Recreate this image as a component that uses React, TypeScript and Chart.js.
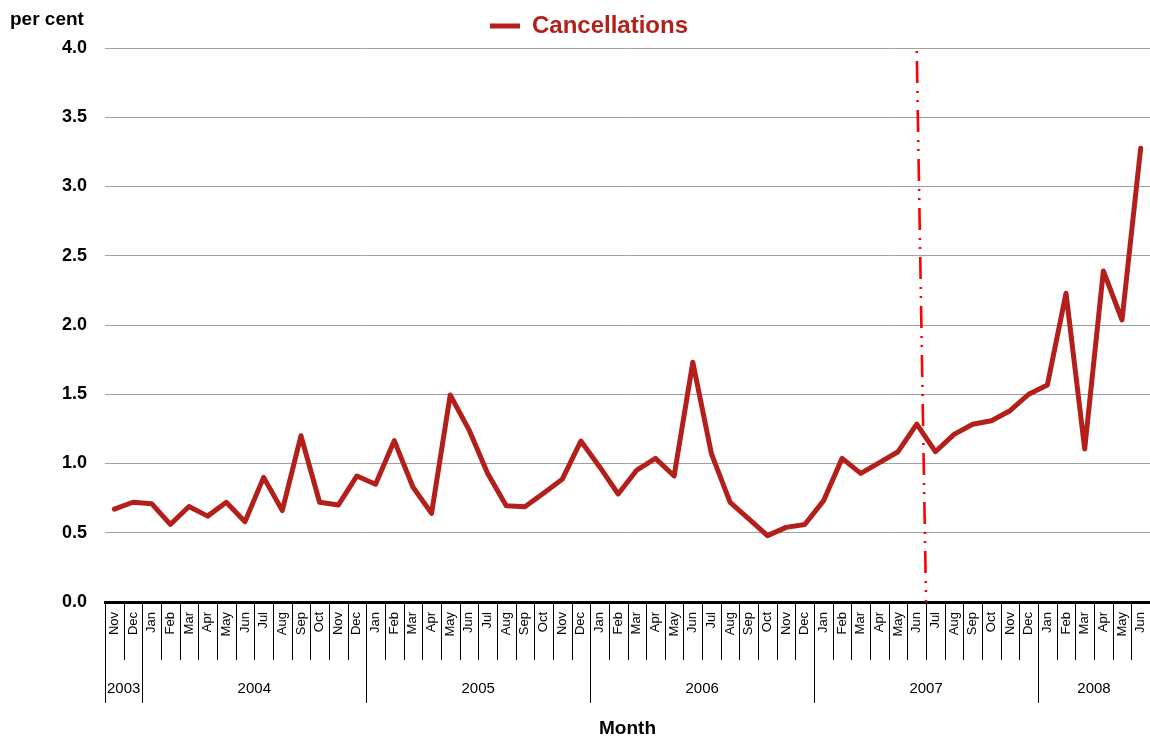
import React, { useEffect, useRef } from 'react';
import { Chart, registerables } from 'chart.js';

Chart.register(...registerables);

const monthLabels = [
  'Nov', 'Dec',
  'Jan', 'Feb', 'Mar', 'Apr', 'May', 'Jun', 'Jul', 'Aug', 'Sep', 'Oct', 'Nov', 'Dec',
  'Jan', 'Feb', 'Mar', 'Apr', 'May', 'Jun', 'Jul', 'Aug', 'Sep', 'Oct', 'Nov', 'Dec',
  'Jan', 'Feb', 'Mar', 'Apr', 'May', 'Jun', 'Jul', 'Aug', 'Sep', 'Oct', 'Nov', 'Dec',
  'Jan', 'Feb', 'Mar', 'Apr', 'May', 'Jun', 'Jul', 'Aug', 'Sep', 'Oct', 'Nov', 'Dec',
  'Jan', 'Feb', 'Mar', 'Apr', 'May', 'Jun',
];

const yearLabels = ['2003', '2004', '2005', '2006', '2007', '2008'];
const yearMonthCounts = [2, 12, 12, 12, 12, 6];

const cancellations = [
  0.67, 0.72,
  0.71, 0.56, 0.69, 0.62, 0.72, 0.58, 0.90, 0.66, 1.20, 0.72, 0.70, 0.91,
  0.85, 1.165, 0.83, 0.64, 1.495, 1.245, 0.93, 0.695, 0.688, 0.785, 0.886, 1.162,
  0.977, 0.78, 0.953, 1.037, 0.91, 1.731, 1.069, 0.72, 0.60, 0.479, 0.539, 0.56,
  0.73, 1.037, 0.929, 1.006, 1.085, 1.285, 1.085, 1.21, 1.283, 1.309, 1.381, 1.50,
  1.567, 2.229, 1.105, 2.39, 2.036, 3.276,
];

const yMin = 0;
const yMax = 4;
const yStep = 0.5;
const markerIndex = 43; // Jun 2007

const FONT = "'Liberation Sans', Arial, Helvetica, sans-serif";
const LINE_COLOR = '#B3201B';

const decorPlugin = {
  id: 'decor',
  beforeInit(chart: any) {
    const legend = chart.legend;
    if (legend) {
      const origFit = legend.fit;
      legend.fit = function () {
        origFit.call(this);
        this.height = 38;
      };
    }
  },
  beforeDatasetsDraw(chart: any) {
    const { ctx, chartArea, scales } = chart;
    const x = scales.x;
    const half = (x.getPixelForValue(1) - x.getPixelForValue(0)) / 2;
    ctx.save();
    ctx.strokeStyle = '#ff0000';
    ctx.lineWidth = 2.6;
    ctx.setLineDash([2, 8, 22, 8, 2, 7]);
    ctx.beginPath();
    ctx.moveTo(x.getPixelForValue(markerIndex), chartArea.top + 3);
    ctx.lineTo(x.getPixelForValue(markerIndex) + half, chartArea.bottom);
    ctx.stroke();
    ctx.restore();
  },
  afterDraw(chart: any) {
    const { ctx, chartArea, scales } = chart;
    const x = scales.x;
    const half = (x.getPixelForValue(1) - x.getPixelForValue(0)) / 2;
    const base = chartArea.bottom;
    const yearStarts = new Set<number>();
    let acc = 0;
    yearMonthCounts.forEach((c) => {
      yearStarts.add(acc);
      acc += c;
    });
    ctx.save();
    ctx.strokeStyle = '#000';
    ctx.lineWidth = 1;
    for (let i = 0; i < monthLabels.length; i++) {
      const bx = Math.round(x.getPixelForValue(i) - half) + 0.5;
      const len = yearStarts.has(i) ? 101 : 58;
      ctx.beginPath();
      ctx.moveTo(bx, base);
      ctx.lineTo(bx, base + len);
      ctx.stroke();
    }
    ctx.fillStyle = '#000';
    ctx.font = `15px ${FONT}`;
    ctx.textAlign = 'center';
    ctx.textBaseline = 'middle';
    let start = 0;
    yearLabels.forEach((yl, k) => {
      const end = start + yearMonthCounts[k] - 1;
      const cx = (x.getPixelForValue(start) + x.getPixelForValue(end)) / 2;
      ctx.fillText(yl, cx, base + 87);
      start += yearMonthCounts[k];
    });
    ctx.font = `bold 19px ${FONT}`;
    ctx.textAlign = 'left';
    ctx.fillText('per cent', 10, 20);
    ctx.restore();
  },
};

export default function App() {
  const canvasRef = useRef<HTMLCanvasElement | null>(null);

  useEffect(() => {
    document.body.style.margin = '0';
    const canvas = canvasRef.current;
    if (!canvas) return;
    const chart = new Chart(canvas, {
      type: 'line',
      data: {
        labels: monthLabels,
        datasets: [
          {
            label: 'Cancellations',
            data: cancellations,
            borderColor: LINE_COLOR,
            backgroundColor: LINE_COLOR,
            borderWidth: 5,
            borderJoinStyle: 'round',
            borderCapStyle: 'round',
            pointRadius: 0,
            pointHoverRadius: 0,
            tension: 0,
            fill: false,
            pointStyle: 'line',
          },
        ],
      },
      options: {
        animation: false,
        responsive: false,
        maintainAspectRatio: false,
        layout: { padding: { left: 28, right: 0, top: 10, bottom: 0 } },
        plugins: {
          legend: {
            display: true,
            position: 'top',
            align: 'center',
            labels: {
              usePointStyle: true,
              pointStyle: 'line',
              pointStyleWidth: 30,
              padding: 4,
              color: LINE_COLOR,
              font: { family: FONT, size: 24, weight: 'bold' },
            },
          },
          tooltip: { enabled: false },
          title: { display: false },
        },
        scales: {
          x: {
            type: 'category',
            offset: true,
            grid: { display: false, drawTicks: false, offset: true },
            border: { display: true, color: '#000', width: 3 },
            ticks: {
              autoSkip: false,
              minRotation: 90,
              maxRotation: 90,
              padding: 10,
              color: '#000',
              font: { family: FONT, size: 13 },
            },
            title: {
              display: true,
              text: 'Month',
              color: '#000',
              font: { family: FONT, size: 19, weight: 'bold' },
              padding: { top: 0, bottom: -2 },
            },
            afterFit(scale: any) {
              scale.height = 136;
              scale.paddingLeft = 0;
              scale.paddingRight = 0;
            },
          },
          y: {
            min: yMin,
            max: yMax,
            grid: { color: '#a0a0a0', lineWidth: 1, drawTicks: false },
            border: { display: false },
            ticks: {
              stepSize: yStep,
              padding: 18,
              color: '#000',
              font: { family: FONT, size: 18, weight: 'bold' },
              callback: (v: any) => Number(v).toFixed(1),
            },
            afterFit(scale: any) {
              scale.width = 77;
            },
          },
        },
      },
      plugins: [decorPlugin],
    });
    return () => chart.destroy();
  }, []);

  return (
    <div style={{ width: 1150, height: 738, position: 'relative', background: '#fff' }}>
      <canvas ref={canvasRef} width={1150} height={738} />
    </div>
  );
}
